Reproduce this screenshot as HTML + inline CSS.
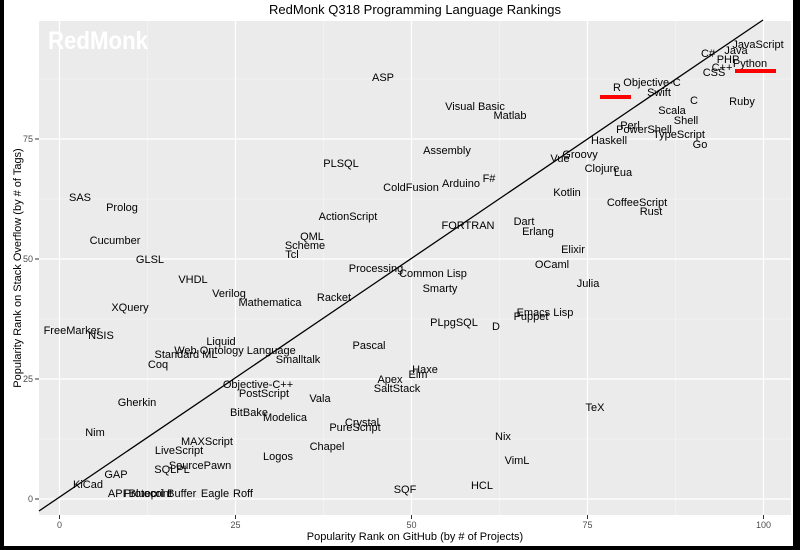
<!DOCTYPE html>
<html><head><meta charset="utf-8"><style>
html,body{margin:0;padding:0;background:#000}
svg{display:block}
text{font-family:"Liberation Sans",Arial,sans-serif}
.l{font-size:11px;fill:#000;text-anchor:middle;dominant-baseline:central}
.t{font-size:9px;fill:#4d4d4d}
</style></head><body>
<svg width="800" height="550" viewBox="0 0 800 550" xmlns="http://www.w3.org/2000/svg">
<rect x="0" y="0" width="800" height="550" fill="#000"/>
<rect x="4" y="0" width="789" height="546" fill="#fff"/>
<rect x="39" y="21" width="752" height="494" fill="#ebebeb"/>
<g stroke="#f5f5f5" stroke-width="0.6">
<line x1="147.5" y1="21" x2="147.5" y2="515"/><line x1="323.5" y1="21" x2="323.5" y2="515"/><line x1="499.5" y1="21" x2="499.5" y2="515"/><line x1="675.5" y1="21" x2="675.5" y2="515"/>
<line x1="39" y1="439" x2="791" y2="439"/><line x1="39" y1="319" x2="791" y2="319"/><line x1="39" y1="199" x2="791" y2="199"/><line x1="39" y1="79" x2="791" y2="79"/>
</g>
<g stroke="#fff" stroke-width="1.2">
<line x1="59.5" y1="21" x2="59.5" y2="515"/><line x1="235.5" y1="21" x2="235.5" y2="515"/><line x1="411.5" y1="21" x2="411.5" y2="515"/><line x1="587.5" y1="21" x2="587.5" y2="515"/><line x1="763.5" y1="21" x2="763.5" y2="515"/>
<line x1="39" y1="499" x2="791" y2="499"/><line x1="39" y1="379" x2="791" y2="379"/><line x1="39" y1="259" x2="791" y2="259"/><line x1="39" y1="139" x2="791" y2="139"/>
</g>
<text x="48" y="49" textLength="100" lengthAdjust="spacingAndGlyphs" style="font-size:25px;font-weight:bold;fill:#fff">RedMonk</text>
<line x1="39" y1="511" x2="763" y2="20" stroke="#000" stroke-width="1.3"/>
<line x1="600" y1="97" x2="631" y2="97" stroke="#f00" stroke-width="4"/>
<line x1="735" y1="71" x2="776" y2="71" stroke="#f00" stroke-width="4"/>
<text x="415" y="14" style="font-size:13px;text-anchor:middle">RedMonk Q318 Programming Language Rankings</text>
<text x="415" y="540" style="font-size:11px;text-anchor:middle">Popularity Rank on GitHub (by # of Projects)</text>
<text transform="translate(21,268) rotate(-90)" style="font-size:11px;text-anchor:middle">Popularity Rank on Stack Overflow (by # of Tags)</text>
<g stroke="#333" stroke-width="1"><line x1="35" y1="499" x2="39" y2="499"/><line x1="35" y1="379" x2="39" y2="379"/><line x1="35" y1="259" x2="39" y2="259"/><line x1="35" y1="139" x2="39" y2="139"/>
<line x1="59.5" y1="515" x2="59.5" y2="519"/><line x1="235.5" y1="515" x2="235.5" y2="519"/><line x1="411.5" y1="515" x2="411.5" y2="519"/><line x1="587.5" y1="515" x2="587.5" y2="519"/><line x1="763.5" y1="515" x2="763.5" y2="519"/></g>
<g class="t" text-anchor="end"><text x="33" y="502">0</text><text x="33" y="382">25</text><text x="33" y="262">50</text><text x="33" y="142">75</text></g>
<g class="t" text-anchor="middle"><text x="59.5" y="528">0</text><text x="235.5" y="528">25</text><text x="411.5" y="528">50</text><text x="587.5" y="528">75</text><text x="763.5" y="528">100</text></g>
<g class="l" transform="translate(0,1)">
<text x="758" y="44">JavaScript</text><text x="736" y="50">Java</text><text x="708" y="53">C#</text><text x="728" y="59">PHP</text><text x="722" y="67">C++</text><text x="714" y="72">CSS</text><text x="750" y="63">Python</text><text x="617" y="87">R</text>
<text x="652" y="82">Objective-C</text><text x="659" y="92">Swift</text><text x="694" y="100">C</text><text x="742" y="101">Ruby</text><text x="672" y="110">Scala</text><text x="686" y="120">Shell</text><text x="630" y="125">Perl</text><text x="644" y="129">PowerShell</text><text x="679" y="134">TypeScript</text><text x="609" y="140">Haskell</text><text x="700" y="144">Go</text><text x="580" y="154">Groovy</text><text x="560" y="158">Vue</text><text x="602" y="168">Clojure</text><text x="623" y="172">Lua</text>
<text x="383" y="77">ASP</text><text x="475" y="106">Visual Basic</text><text x="510" y="115">Matlab</text><text x="447" y="150">Assembly</text><text x="341" y="163">PLSQL</text><text x="411" y="187">ColdFusion</text><text x="461" y="183">Arduino</text><text x="489" y="178">F#</text><text x="567" y="192">Kotlin</text><text x="637" y="202">CoffeeScript</text><text x="651" y="211">Rust</text>
<text x="80" y="197">SAS</text><text x="122" y="207">Prolog</text><text x="348" y="216">ActionScript</text><text x="468" y="225">FORTRAN</text><text x="524" y="221">Dart</text><text x="538" y="231">Erlang</text><text x="312" y="236">QML</text><text x="115" y="240">Cucumber</text><text x="305" y="245">Scheme</text><text x="292" y="254">Tcl</text><text x="573" y="249">Elixir</text><text x="150" y="259">GLSL</text><text x="552" y="264">OCaml</text><text x="376" y="268">Processing</text><text x="433" y="273">Common Lisp</text><text x="193" y="279">VHDL</text><text x="588" y="283">Julia</text><text x="440" y="288">Smarty</text><text x="229" y="293">Verilog</text><text x="334" y="297">Racket</text><text x="270" y="302">Mathematica</text><text x="130" y="307">XQuery</text><text x="545" y="312">Emacs Lisp</text><text x="531" y="316">Puppet</text><text x="454" y="322">PLpgSQL</text><text x="496" y="326">D</text><text x="72" y="330">FreeMarker</text><text x="101" y="335">NSIS</text><text x="221" y="341">Liquid</text><text x="369" y="345">Pascal</text><text x="235" y="350">Web Ontology Language</text><text x="186" y="354">Standard ML</text><text x="298" y="359">Smalltalk</text><text x="158" y="364">Coq</text><text x="425" y="369">Haxe</text><text x="418" y="374">Elm</text><text x="390" y="379">Apex</text><text x="258" y="384">Objective-C++</text><text x="397" y="388">SaltStack</text><text x="264" y="393">PostScript</text><text x="320" y="398">Vala</text><text x="137" y="402">Gherkin</text><text x="595" y="407">TeX</text><text x="249" y="412">BitBake</text><text x="285" y="417">Modelica</text><text x="362" y="422">Crystal</text><text x="355" y="427">PureScript</text><text x="95" y="432">Nim</text><text x="503" y="436">Nix</text><text x="207" y="441">MAXScript</text><text x="327" y="446">Chapel</text><text x="179" y="450">LiveScript</text><text x="278" y="456">Logos</text><text x="517" y="460">VimL</text><text x="200" y="465">SourcePawn</text><text x="172" y="469">SQLPL</text><text x="116" y="474">GAP</text><text x="88" y="484">KiCad</text><text x="482" y="485">HCL</text><text x="405" y="489">SQF</text><text x="140" y="493">API Blueprint</text><text x="160" y="493">Protocol Buffer</text><text x="215" y="493">Eagle</text><text x="243" y="493">Roff</text>
</g>
</svg>
</body></html>
